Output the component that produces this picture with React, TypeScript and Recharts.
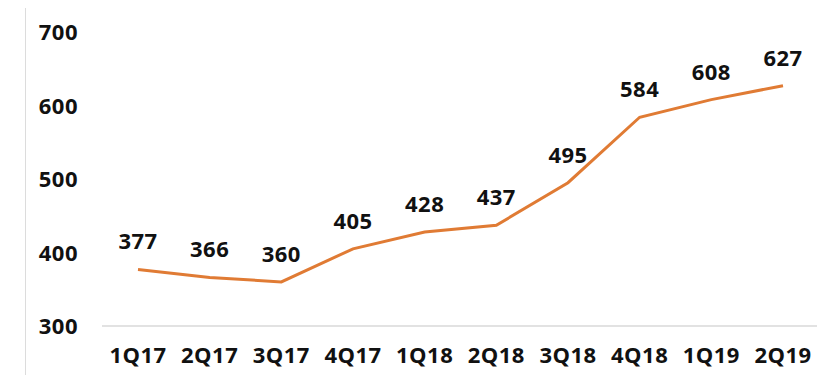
import { LabelList, Line, LineChart, XAxis, YAxis } from 'recharts'

const quarters = ['1Q17', '2Q17', '3Q17', '4Q17', '1Q18', '2Q18', '3Q18', '4Q18', '1Q19', '2Q19']
const values = [377, 366, 360, 405, 428, 437, 495, 584, 608, 627]
const yTicks = [300, 400, 500, 600, 700]

const data = quarters.map((q, i) => ({ quarter: q, value: values[i] }))

const FONT = '"Open Sans", sans-serif'
const FS = 22

function YTick({ x, y, payload }: { x?: number; y?: number; payload?: { value: number } }) {
  return (
    <text x={(x ?? 0) + 6} y={y} dy={8} textAnchor="end" fontFamily={FONT} fontWeight={700} fontSize={FS} letterSpacing={0.5} fill="#111">
      {payload?.value}
    </text>
  )
}

function XTick({ x, y, payload }: { x?: number; y?: number; payload?: { value: string } }) {
  return (
    <text x={x} y={y} dy={7} textAnchor="middle" fontFamily={FONT} fontWeight={700} fontSize={FS} letterSpacing={0.5} fill="#111">
      {payload?.value}
    </text>
  )
}

export default function App() {
  return (
    <div style={{ position: 'relative', width: 838, height: 383, margin: -8, background: '#fff', overflow: 'hidden' }}>
      <div
        style={{
          position: 'absolute',
          left: 25,
          top: 7,
          width: 812,
          height: 400,
          border: '1px solid #dcdcdc',
          boxSizing: 'border-box',
        }}
      />
      <div style={{ position: 'absolute', left: 0, top: 0 }}>
        <LineChart width={838} height={383} data={data} margin={{ top: 32, right: 21, bottom: 0, left: 0 }}>
          <XAxis
            dataKey="quarter"
            height={57}
            padding={{ left: 36, right: 34 }}
            axisLine={{ stroke: '#d9d9d9', strokeWidth: 1.5 }}
            tickLine={false}
            tickMargin={24}
            interval={0}
            tick={<XTick />}
          />
          <YAxis
            domain={[300, 700]}
            ticks={yTicks}
            width={102}
            axisLine={false}
            tickLine={false}
            tickMargin={24}
            tick={<YTick />}
          />
          <Line
            type="linear"
            dataKey="value"
            stroke="#E07B34"
            strokeWidth={3}
            dot={false}
            isAnimationActive={false}
          >
            <LabelList
              dataKey="value"
              position="top"
              offset={20}
              fill="#111"
              fontFamily={FONT}
              fontWeight={700}
              fontSize={FS}
              letterSpacing={0.5}
            />
          </Line>
        </LineChart>
      </div>
    </div>
  )
}
